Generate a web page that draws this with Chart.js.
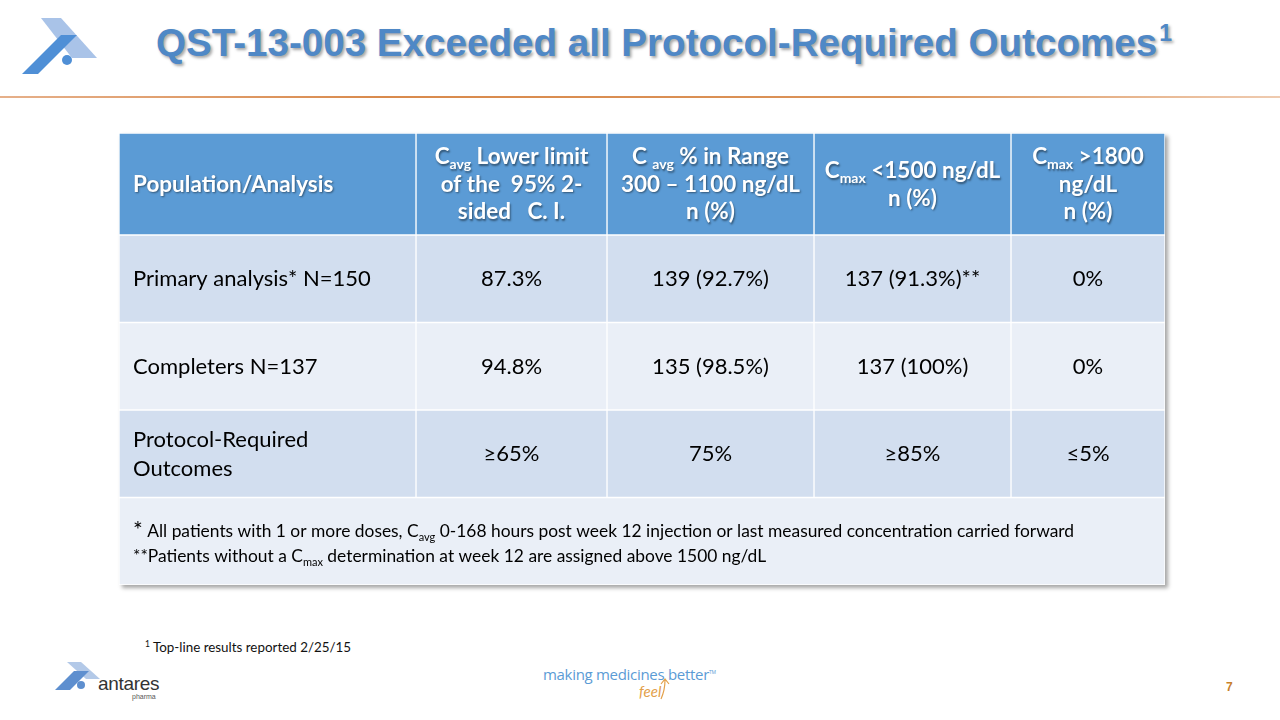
<!DOCTYPE html>
<html>
<head>
<meta charset="utf-8">
<title>QST-13-003 Exceeded all Protocol-Required Outcomes</title>
<script src="https://cdn.jsdelivr.net/npm/chart.js@4.4.1/dist/chart.umd.min.js"></script>
<style>
  html, body { margin: 0; padding: 0; background: #fff; }
  #slide { position: relative; width: 1280px; height: 720px; overflow: hidden; font-family: Lato, "Open Sans", sans-serif; }
  #title {
    position: absolute; left: 156px; top: 24px; white-space: nowrap;
    font: bold 38.6px/38.6px "Liberation Sans", Arial, sans-serif; color: #4F88C6;
    text-shadow: 2px 2px 3px rgba(0, 0, 0, 0.35);
  }
  #title span { font-size: 23px; position: relative; top: -15px; margin-left: 2px; }
  #rule {
    position: absolute; left: 0; top: 96px; width: 1280px; height: 2px;
    background: linear-gradient(to right, #E6B08A, #D98A4C 30%, #DB9359 70%, #EFCBB0);
  }
  #tableShadow {
    position: absolute; left: 119px; top: 133px; width: 1046px; height: 452px;
    background: #fff; box-shadow: 3px 3px 4px rgba(0, 0, 0, 0.35);
  }
  #tableCanvas { position: absolute; left: 119px; top: 133px; width: 1046px; height: 452px; }
  .abs { position: absolute; white-space: nowrap; }
  #refNote { left: 145px; top: 637px; font-size: 13.4px; line-height: 14px; color: #111; }
  #refNote sup { font-size: 8.5px; }
  #antares { left: 98px; top: 674px; font: 300 19px/19px "Liberation Sans", Arial, sans-serif; color: #333; letter-spacing: -0.3px; }
  #pharma { left: 132px; top: 693px; font: 7px/7px "Liberation Sans", Arial, sans-serif; color: #555; }
  #tagline { left: 543px; top: 664px; font: 15px/16px "Open Sans", sans-serif; color: #5B9BD5; letter-spacing: -0.3px; }
  #tagline sup { font-size: 5px; }
  #feel { left: 639px; top: 684px; font: italic 15px/15px Lato, sans-serif; color: #E3A04A; }
  #pageNo { left: 1226px; top: 681px; font: bold 12px/12px "Liberation Sans", Arial, sans-serif; color: #C8802A; }
</style>
</head>
<body>
<div id="slide">
  <svg class="abs" style="left:0;top:0" width="110" height="90">
    <polygon points="41,18 61,18 97,58 72,58" fill="#A9C3E8"/>
    <polygon points="22,74 38,74 77,35 61,35" fill="#4F8FD6"/>
    <circle cx="67" cy="60" r="5" fill="#4F8FD6"/>
  </svg>
  <div id="title">QST-13-003 Exceeded all Protocol-Required Outcomes<span>1</span></div>
  <div id="rule"></div>

  <div id="tableShadow"></div>
  <canvas id="tableCanvas" width="1046" height="452"></canvas>

  <div id="refNote" class="abs"><sup>1</sup> Top-line results reported 2/25/15</div>

  <svg class="abs" style="left:50px;top:655px" width="50" height="40">
    <polygon points="17,7 31,7 50,24 36,24" fill="#B3C9E8"/>
    <polygon points="5,35 20,35 39,16 24,16" fill="#5E8FCF"/>
    <circle cx="31" cy="30" r="4" fill="#5E8FCF"/>
  </svg>
  <div id="antares" class="abs">antares</div>
  <div id="pharma" class="abs">pharma</div>

  <div id="tagline" class="abs">making medicines better<sup>TM</sup></div>
  <div id="feel" class="abs">feel</div>
  <svg class="abs" style="left:658px;top:676px" width="14" height="26">
    <path d="M3 23 Q7 14 7 4 M3 8 L7 3 L11 8" stroke="#E3A04A" stroke-width="1.2" fill="none"/>
  </svg>
  <div id="pageNo" class="abs">7</div>
</div>

<script>
  // ---- table content ----
  const colHeaders = [
    ["Population/Analysis"],
    ["C_{avg} Lower limit", "of the  95% 2-", "sided   C. I."],
    ["C _{avg} % in Range", "300 – 1100 ng/dL", "n (%)"],
    ["C_{max} <1500 ng/dL", "n (%)"],
    ["C_{max} >1800", "ng/dL", "n (%)"]
  ];
  const populations = [
    ["Primary analysis* N=150"],
    ["Completers N=137"],
    ["Protocol-Required", "Outcomes"]
  ];
  const cavgLowerLimit = ["87.3%", "94.8%", "≥65%"];
  const cavgInRange = ["139 (92.7%)", "135 (98.5%)", "75%"];
  const cmaxBelow1500 = ["137 (91.3%)**", "137 (100%)", "≥85%"];
  const cmaxAbove1800 = ["0%", "0%", "≤5%"];
  const footnotes = [
    "!{*} All patients with 1 or more doses, C_{avg} 0-168 hours post week 12 injection or last measured concentration carried forward",
    "**Patients without a C_{max} determination at week 12 are assigned above 1500 ng/dL"
  ];
  const rowNames = ["Primary analysis", "Completers", "Protocol-Required", "Footnotes"];

  // ---- layout ----
  const COL_WIDTHS = [297, 191, 207, 197, 154];
  const TABLE_WIDTH = COL_WIDTHS.reduce((a, b) => a + b, 0);
  const HEADER_HEIGHT = 102;
  const BODY_HEIGHT = 350;
  const HEAD_FILL = "#5B9BD5";
  const ROW_FILLS = ["#D2DEEF", "#EAEFF7", "#D2DEEF", "#EAEFF7"];
  const FONT = "Lato, 'Open Sans', sans-serif";

  function parseRich(str) {
    const runs = [];
    const re = /([_^!])\{([^}]*)\}/g;
    let last = 0, m;
    while ((m = re.exec(str))) {
      if (m.index > last) runs.push({ t: str.slice(last, m.index), mode: "" });
      runs.push({ t: m[2], mode: m[1] });
      last = re.lastIndex;
    }
    if (last < str.length) runs.push({ t: str.slice(last), mode: "" });
    return runs;
  }

  function drawRich(ctx, str, x, y, align, size, weight) {
    const runs = parseRich(str);
    const fontFor = (r) => {
      let s = size;
      if (r.mode === "_" || r.mode === "^") s = Math.round(size * 0.62);
      if (r.mode === "!") s = Math.round(size * 1.35);
      return weight + " " + s + "px " + FONT;
    };
    let width = 0;
    runs.forEach((r) => {
      ctx.font = fontFor(r);
      r.w = ctx.measureText(r.t).width;
      width += r.w;
    });
    let cx = align === "center" ? x - width / 2 : x;
    ctx.textAlign = "left";
    ctx.textBaseline = "alphabetic";
    runs.forEach((r) => {
      ctx.font = fontFor(r);
      let dy = 0;
      if (r.mode === "_") dy = size * 0.22;
      if (r.mode === "^") dy = -size * 0.4;
      if (r.mode === "!") dy = size * 0.05;
      ctx.fillText(r.t, cx, y + dy);
      cx += r.w;
    });
  }

  const cellTextPlugin = {
    id: "cellText",
    afterDatasetsDraw(chart) {
      const ctx = chart.ctx;
      chart.data.datasets.forEach((ds, di) => {
        const meta = chart.getDatasetMeta(di);
        meta.data.forEach((bar, i) => {
          const lines = ds.texts[i];
          if (!lines || ds.data[i] == null) return;
          const p = bar.getProps(["x", "y", "base"], true);
          const left = Math.min(p.x, p.base);
          const right = Math.max(p.x, p.base);
          const isFoot = ds.role === "label" && i === rowNames.length - 1;
          let size = 22, lh = 29, weight = "normal", color = "#000", dyc = 0;
          if (ds.role === "head") { weight = "bold"; color = "#fff"; lh = 27.5; size = 22.5; }
          if (isFoot) { size = 17.4; lh = 25; dyc = 2; }
          const align = ds.col === 0 ? "left" : "center";
          const tx = align === "left" ? left + 14 : (left + right) / 2;
          ctx.save();
          ctx.fillStyle = color;
          if (ds.role === "head") {
            ctx.shadowColor = "rgba(0,0,0,0.45)";
            ctx.shadowOffsetX = 1;
            ctx.shadowOffsetY = 1.5;
            ctx.shadowBlur = 2;
          }
          lines.forEach((line, k) => {
            const ty = p.y + dyc + (k - (lines.length - 1) / 2) * lh + size * 0.35;
            drawRich(ctx, line, tx, ty, align, size, weight);
          });
          ctx.restore();
        });
      });
    }
  };

  const bodyColumns = [populations, cavgLowerLimit, cavgInRange, cmaxBelow1500, cmaxAbove1800];
  const datasets = [];
  colHeaders.forEach((lines, c) => {
    datasets.push({
      yAxisID: "yHead",
      data: [COL_WIDTHS[c]],
      backgroundColor: HEAD_FILL,
      texts: [lines],
      role: "head",
      col: c
    });
  });
  bodyColumns.forEach((values, c) => {
    const data = values.map(() => COL_WIDTHS[c]);
    const texts = values.map((v) => (Array.isArray(v) ? v : [v]));
    // footnote row spans the full table width
    data.push(c === 0 ? TABLE_WIDTH : null);
    texts.push(c === 0 ? footnotes : null);
    datasets.push({
      yAxisID: "yBody",
      data,
      backgroundColor: ROW_FILLS,
      texts,
      role: c === 0 ? "label" : "value",
      col: c
    });
  });

  new Chart(document.getElementById("tableCanvas"), {
    type: "bar",
    data: { labels: rowNames, datasets },
    options: {
      indexAxis: "y",
      responsive: false,
      animation: false,
      devicePixelRatio: 1,
      layout: { padding: 0 },
      datasets: {
        bar: {
          grouped: false,
          barPercentage: 1,
          categoryPercentage: 1,
          borderColor: "#ffffff",
          borderWidth: 1,
          borderSkipped: false
        }
      },
      plugins: {
        legend: { display: false },
        tooltip: { enabled: false }
      },
      scales: {
        x: { type: "linear", stacked: true, min: 0, max: TABLE_WIDTH, display: false },
        yHead: {
          type: "category", labels: ["Header"], stacked: true, offset: true,
          position: "left", stack: "rows", stackWeight: HEADER_HEIGHT, weight: 10, display: false
        },
        yBody: {
          type: "category", labels: rowNames, stacked: true, offset: true,
          position: "left", stack: "rows", stackWeight: BODY_HEIGHT, weight: 0, display: false
        }
      }
    },
    plugins: [cellTextPlugin]
  });
</script>
</body>
</html>
